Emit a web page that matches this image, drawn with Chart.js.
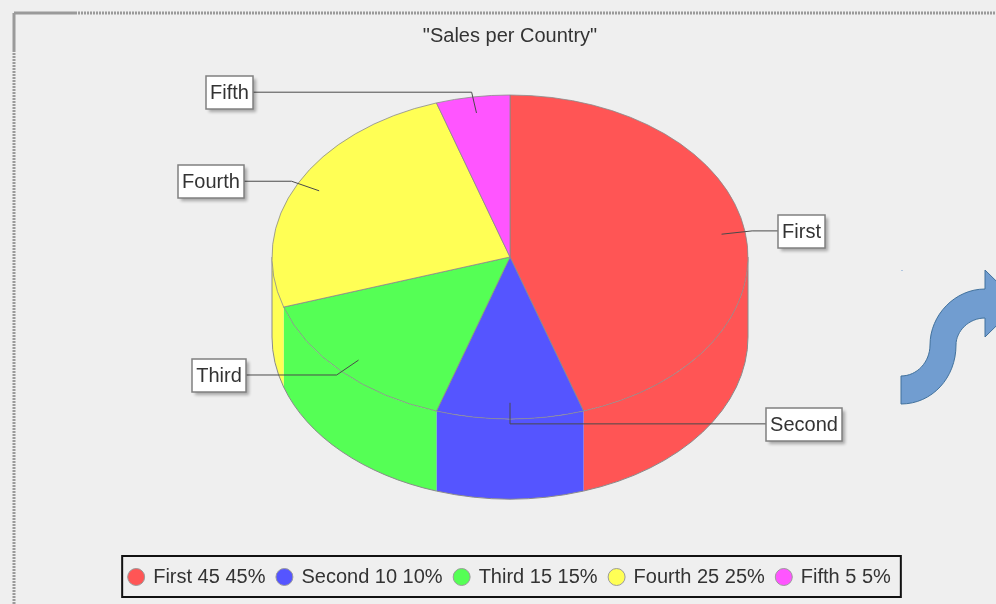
<!DOCTYPE html>
<html>
<head>
<meta charset="utf-8">
<title>Sales per Country</title>
<script src="https://cdn.jsdelivr.net/npm/chart.js@4"></script>
<style>
    html, body { margin: 0; padding: 0; background: #efefef; overflow: hidden; }
    canvas { display: block; }
</style>
</head>
<body>
<canvas id="grafico" width="996" height="604"></canvas>
<script>
const titolo = '"Sales per Country"';
const categorie = ['First', 'Second', 'Third', 'Fourth', 'Fifth'];
const valori = [45, 10, 15, 25, 5];
const percentuali = ['45%', '10%', '15%', '25%', '5%'];
const colori = ['#ff5555', '#5555ff', '#55ff55', '#ffff55', '#ff55ff'];

// look of the tilted pie and its callouts, not data
const torta = { x: 510, y: 257, rx: 238, ry: 162, altezza: 80 };
const bordoEtichetta = [778, 766, 246, 244, 253];
const lineaEtichetta = 1.03;
const puntoEtichetta = 0.9;
const fontBase = '"Liberation Sans", Arial, sans-serif';

function disegnaCornice(ctx) {
    ctx.save();
    ctx.strokeStyle = '#9a9a9a';
    ctx.lineWidth = 3;
    ctx.beginPath();
    ctx.moveTo(14, 13);
    ctx.lineTo(75, 13);
    ctx.moveTo(14, 13);
    ctx.lineTo(14, 50);
    ctx.stroke();
    ctx.setLineDash([2, 1]);
    ctx.beginPath();
    ctx.moveTo(75, 13);
    ctx.lineTo(996, 13);
    ctx.moveTo(14, 50);
    ctx.lineTo(14, 604);
    ctx.stroke();
    ctx.restore();
}

function disegnaFreccia(ctx) {
    ctx.save();
    ctx.fillStyle = '#719dd0';
    ctx.strokeStyle = '#41719c';
    ctx.lineWidth = 1;
    ctx.beginPath();
    ctx.moveTo(901, 376);
    ctx.bezierCurveTo(917, 376, 930, 362, 930, 345);
    ctx.bezierCurveTo(930, 315, 955, 289, 985, 289);
    ctx.lineTo(985, 270);
    ctx.lineTo(1019, 303.5);
    ctx.lineTo(985, 337);
    ctx.lineTo(985, 318);
    ctx.bezierCurveTo(969, 318, 956, 331, 956, 345);
    ctx.bezierCurveTo(956, 378, 932, 404, 901, 404);
    ctx.closePath();
    ctx.fill();
    ctx.stroke();
    ctx.fillRect(901.5, 270, 1, 1);
    ctx.restore();
}

// side of the pie, only the part of each slice that faces the viewer
function disegnaFianco(ctx, archi) {
    const basso = torta.y + torta.altezza;
    archi.forEach((arco, i) => {
        const inizio = Math.max(arco.startAngle, 0);
        const fine = Math.min(arco.endAngle, Math.PI);
        if (fine <= inizio) {
            return;
        }
        ctx.beginPath();
        ctx.ellipse(torta.x, basso, torta.rx, torta.ry, 0, inizio, fine);
        ctx.ellipse(torta.x, torta.y, torta.rx, torta.ry, 0, fine, inizio, true);
        ctx.closePath();
        ctx.fillStyle = colori[i];
        ctx.fill();
        ctx.beginPath();
        ctx.ellipse(torta.x, basso, torta.rx, torta.ry, 0, inizio, fine);
        ctx.strokeStyle = '#8a8a8a';
        ctx.lineWidth = 1;
        ctx.stroke();
    });
    ctx.strokeStyle = '#8a8a8a';
    ctx.beginPath();
    ctx.moveTo(torta.x - torta.rx, torta.y);
    ctx.lineTo(torta.x - torta.rx, basso);
    ctx.moveTo(torta.x + torta.rx, torta.y);
    ctx.lineTo(torta.x + torta.rx, basso);
    ctx.stroke();
}

function disegnaEtichette(ctx, archi) {
    ctx.save();
    ctx.font = '20px ' + fontBase;
    archi.forEach((arco, i) => {
        const medio = (arco.startAngle + arco.endAngle) / 2;
        const px = torta.x + Math.cos(medio) * torta.rx * puntoEtichetta;
        const py = torta.y + Math.sin(medio) * torta.ry * puntoEtichetta;
        const gx = torta.x + Math.cos(medio) * torta.rx * lineaEtichetta;
        const gy = torta.y + Math.sin(medio) * torta.ry * lineaEtichetta;
        const ax = bordoEtichetta[i];

        ctx.strokeStyle = '#4a4a4a';
        ctx.lineWidth = 1;
        ctx.beginPath();
        ctx.moveTo(px, py);
        ctx.lineTo(gx, gy);
        ctx.lineTo(ax, gy);
        ctx.stroke();

        const larghezza = Math.round(ctx.measureText(categorie[i]).width) + 8;
        const sinistra = ax > gx ? ax : ax - larghezza;
        const alto = Math.round(gy) - 16;

        ctx.save();
        ctx.shadowColor = 'rgba(0, 0, 0, 0.3)';
        ctx.shadowOffsetX = 3;
        ctx.shadowOffsetY = 3;
        ctx.shadowBlur = 3;
        ctx.fillStyle = '#ffffff';
        ctx.fillRect(sinistra, alto, larghezza, 33);
        ctx.restore();
        ctx.strokeStyle = '#808080';
        ctx.lineWidth = 1.5;
        ctx.strokeRect(sinistra, alto, larghezza, 33);

        ctx.fillStyle = '#333333';
        ctx.textAlign = 'center';
        ctx.textBaseline = 'middle';
        ctx.fillText(categorie[i], sinistra + larghezza / 2, alto + 17);
    });
    ctx.restore();
}

const pluginTorta = {
    id: 'tortaInclinata',
    beforeDraw(chart) {
        disegnaCornice(chart.ctx);
        disegnaFreccia(chart.ctx);
    },
    beforeDatasetsDraw(chart) {
        const ctx = chart.ctx;
        const archi = chart.getDatasetMeta(0).data;
        disegnaFianco(ctx, archi);
        ctx.save();
        ctx.translate(torta.x, torta.y);
        ctx.scale(torta.rx / archi[0].outerRadius, torta.ry / archi[0].outerRadius);
        ctx.translate(-archi[0].x, -archi[0].y);
    },
    afterDatasetsDraw(chart) {
        chart.ctx.restore();
        disegnaEtichette(chart.ctx, chart.getDatasetMeta(0).data);
    },
    afterDraw(chart) {
        const box = chart.legend.legendHitBoxes;
        const ultimo = box[box.length - 1];
        const ctx = chart.ctx;
        ctx.save();
        ctx.strokeStyle = '#111111';
        ctx.lineWidth = 2;
        ctx.strokeRect(box[0].left - 7, box[0].top - 11, ultimo.left + ultimo.width - box[0].left + 17, box[0].height + 21);
        ctx.restore();
    }
};

const config = {
    type: 'pie',
    data: {
        labels: categorie,
        datasets: [{
            data: valori,
            backgroundColor: colori,
            borderColor: '#8a8a8a',
            borderWidth: 1,
            hoverOffset: 0
        }]
    },
    options: {
        responsive: false,
        animation: false,
        layout: { padding: { left: 24, bottom: 7 } },
        plugins: {
            title: {
                display: true,
                text: titolo,
                color: '#333333',
                font: { family: fontBase, size: 20, weight: 'normal' },
                padding: { top: 24, bottom: 10 }
            },
            legend: {
                position: 'bottom',
                labels: {
                    color: '#333333',
                    font: { family: fontBase, size: 20 },
                    usePointStyle: true,
                    boxWidth: 14,
                    boxHeight: 12,
                    padding: 12,
                    generateLabels: () => categorie.map((c, i) => ({
                        text: `${c} ${valori[i]} ${percentuali[i]}`,
                        fillStyle: colori[i],
                        strokeStyle: '#9a9a9a',
                        fontColor: '#333333',
                        lineWidth: 1,
                        pointStyle: 'circle',
                        index: i
                    }))
                }
            },
            tooltip: { enabled: false }
        }
    },
    plugins: [pluginTorta]
};

new Chart(document.getElementById('grafico').getContext('2d'), config);
</script>
</body>
</html>
